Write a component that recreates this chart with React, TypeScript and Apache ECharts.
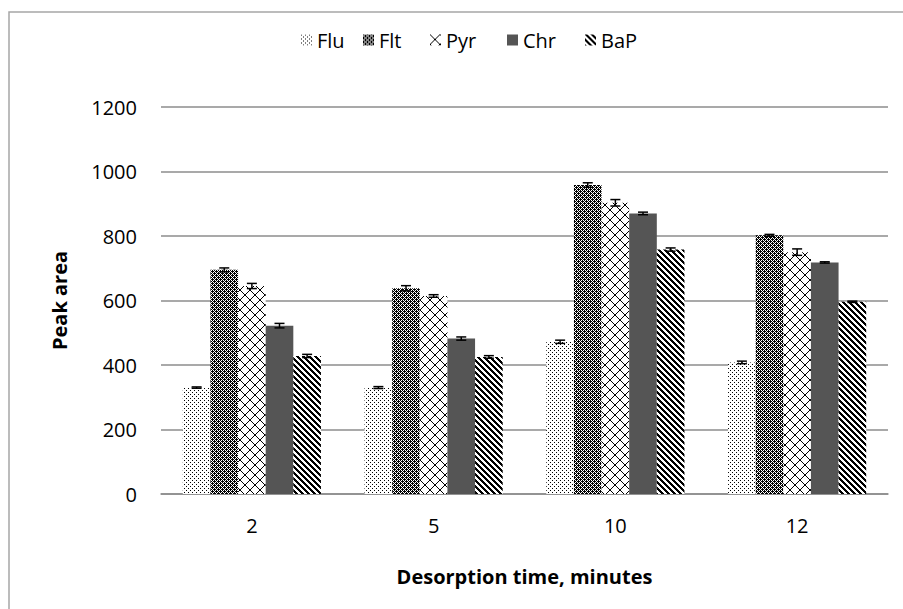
import React, { useEffect, useRef } from "react";
import * as echarts from "echarts";

const categories = ["2", "5", "10", "12"];
const seriesNames = ["Flu", "Flt", "Pyr", "Chr", "BaP"];
const fluValues = [330, 330, 472, 408];
const fltValues = [695, 638, 958, 802];
const pyrValues = [645, 614, 903, 750];
const chrValues = [522, 482, 870, 718];
const bapValues = [428, 425, 758, 596];
const fluErr = [2, 3, 5, 4];
const fltErr = [6, 8, 7, 3];
const pyrErr = [8, 4, 10, 10];
const chrErr = [7, 5, 4, 2];
const bapErr = [5, 4, 5, 2];
const yTicks = [0, 200, 400, 600, 800, 1000, 1200];

const FONT = "'Open Sans', Lato, sans-serif";
const FS = 20;
const CAT_GAP = 0.24;
const LEGEND_LEFTS = [301, 363, 430, 507, 585];

function makePattern(size: number, fn: (x: number, y: number) => boolean, bg = "#ffffff", fg = "#000000") {
  const c = document.createElement("canvas");
  c.width = size;
  c.height = size;
  const ctx = c.getContext("2d")!;
  ctx.fillStyle = bg;
  ctx.fillRect(0, 0, size, size);
  ctx.fillStyle = fg;
  for (let y = 0; y < size; y++) {
    for (let x = 0; x < size; x++) {
      if (fn(x, y)) ctx.fillRect(x, y, 1, 1);
    }
  }
  return { image: c, repeat: "repeat" } as any;
}

function fromMap(rows: string[]) {
  return (x: number, y: number) => rows[y][x] === "X";
}

export default function App() {
  const ref = useRef<HTMLDivElement>(null);
  useEffect(() => {
    if (!ref.current) return;
    const chart = echarts.init(ref.current, null, { renderer: "svg" });

    const fills = [
      makePattern(4, fromMap(["X...", "....", "..X.", "...."])),
      makePattern(4, fromMap(["X.X.", ".XXX", "X.X.", "XX.X"])),
      makePattern(10, (x, y) => x === y || x === 9 - y),
      "#555555",
      makePattern(6, (x, y) => (((x - y) % 6) + 6) % 6 < 3),
    ];
    const valueSets = [fluValues, fltValues, pyrValues, chrValues, bapValues];
    const errSets = [fluErr, fltErr, pyrErr, chrErr, bapErr];

    const barSeries = seriesNames.map((name, i) => ({
      name,
      type: "bar",
      data: valueSets[i],
      barGap: "0%",
      barCategoryGap: CAT_GAP * 100 + "%",
      itemStyle: { color: fills[i] },
    }));

    const errData: number[][] = [];
    valueSets.forEach((vals, si) => {
      vals.forEach((v, ci) => errData.push([ci, v, errSets[si][ci], si]));
    });

    const errorSeries = {
      type: "custom",
      name: "err",
      z: 10,
      data: errData,
      encode: { x: 0, y: 1 },
      renderItem: (params: any, api: any) => {
        const ci = api.value(0);
        const v = api.value(1);
        const e = api.value(2);
        const si = api.value(3);
        const band = api.size([1, 0])[0];
        const barW = (band * (1 - CAT_GAP)) / 5;
        const cx = api.coord([ci, 0])[0] - (band * (1 - CAT_GAP)) / 2 + barW * (si + 0.5);
        const yHi = api.coord([ci, v + e])[1];
        const yLo = api.coord([ci, v - e])[1];
        const cap = 5;
        const style = { stroke: "#000", lineWidth: 1.5 };
        return {
          type: "group",
          children: [
            { type: "line", shape: { x1: cx, y1: yHi, x2: cx, y2: yLo }, style },
            { type: "line", shape: { x1: cx - cap, y1: yHi, x2: cx + cap, y2: yHi }, style },
            { type: "line", shape: { x1: cx - cap, y1: yLo, x2: cx + cap, y2: yLo }, style },
          ],
        };
      },
    };

    const legends = seriesNames.map((name, i) => ({
      data: [name],
      top: 30,
      left: LEGEND_LEFTS[i],
      padding: 0,
      itemWidth: 11,
      itemHeight: 11,
      icon: "rect",
      textStyle: { fontSize: FS, color: "#000", fontFamily: FONT },
    }));

    chart.setOption({
      animation: false,
      backgroundColor: "#ffffff",
      textStyle: { fontFamily: FONT },
      graphic: [
        {
          type: "rect",
          shape: { x: 9, y: 12, width: 1000, height: 700 },
          style: { fill: "none", stroke: "#a6a6a6", lineWidth: 1.5 },
          silent: true,
        },
      ],
      legend: legends,
      grid: { left: 161, right: 15, top: 107, bottom: 115 },
      xAxis: {
        type: "category",
        data: categories,
        axisTick: { show: false },
        axisLine: { lineStyle: { color: "#8c8c8c", width: 1.5 } },
        axisLabel: { fontSize: FS, color: "#000", margin: 21, fontFamily: FONT },
        name: "Desorption time, minutes",
        nameLocation: "middle",
        nameGap: 72,
        nameTextStyle: { fontSize: FS, fontWeight: "bold", color: "#000", fontFamily: FONT },
      },
      yAxis: {
        type: "value",
        min: yTicks[0],
        max: yTicks[yTicks.length - 1],
        interval: 200,
        axisLine: { show: false },
        axisTick: { show: false },
        splitLine: { lineStyle: { color: "#8c8c8c", width: 1.5 } },
        axisLabel: {
          fontSize: FS,
          color: "#000",
          margin: 24,
          fontFamily: FONT,
          formatter: (v: number) => String(v),
        },
        name: "Peak area",
        nameLocation: "middle",
        nameGap: 92,
        nameTextStyle: { fontSize: FS, fontWeight: "bold", color: "#000", fontFamily: FONT },
      },
      series: [...barSeries, errorSeries],
    } as any);
    return () => chart.dispose();
  }, []);
  return (
    <div
      ref={ref}
      style={{ position: "fixed", left: 0, top: 0, width: 903, height: 609 }}
    />
  );
}
